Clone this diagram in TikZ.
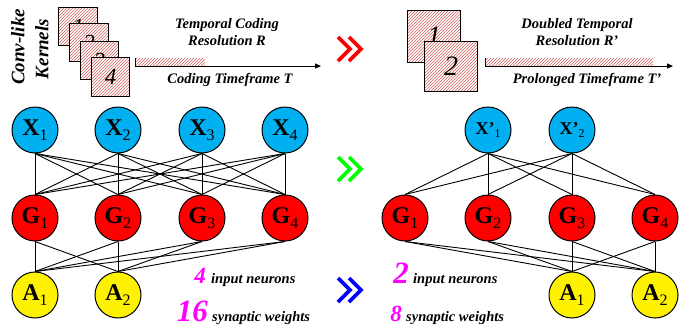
\documentclass[tikz,border=0pt]{standalone}
\usepackage{fontspec}
\setmainfont{Liberation Serif}
\usetikzlibrary{patterns,arrows.meta}
\definecolor{xblue}{RGB}{0,176,240}
\definecolor{hatch}{RGB}{210,95,95}
\definecolor{numpink}{RGB}{255,0,255}
\newcommand\nlab[2]{\textbf{#1}\raisebox{-4.5pt}{\fontsize{16}{16}\selectfont #2}}
\newcommand\plab[2]{\textbf{#1}\raisebox{-3.5pt}{\fontsize{12}{12}\selectfont #2}}
\begin{document}
\begin{tikzpicture}[x=1pt,y=-1pt,
  neuron/.style={circle,draw=black,line width=1pt,minimum size=46pt,inner sep=0pt,
    font=\fontsize{24}{24}\selectfont},
  xn/.style={neuron,fill=xblue},
  xp/.style={neuron,fill=xblue,font=\fontsize{18}{18}\selectfont},
  gn/.style={neuron,fill=red},
  an/.style={neuron,fill=yellow},
  link/.style={line width=0.9pt},
  hatched/.style={preaction={fill=white},pattern=north east lines,pattern color=hatch},
  kbox/.style={hatched,draw=black,line width=1pt,anchor=north west,inner sep=0pt,
    font=\itshape\fontsize{23}{23}\selectfont},
  kbig/.style={kbox,font=\itshape\fontsize{28}{28}\selectfont},
  lbl/.style={font=\bfseries\itshape\fontsize{14.5}{17}\selectfont,align=center,inner sep=0pt},
  side/.style={font=\bfseries\itshape\fontsize{19}{22}\selectfont,inner sep=0pt,rotate=90},
  cnt/.style={font=\bfseries\itshape\fontsize{14.5}{17}\selectfont,anchor=base west,inner sep=0pt},
  big/.style={text=numpink,font=\bfseries\itshape\fontsize{#1}{#1}\selectfont,anchor=base east,inner sep=0pt},
  chev/.style={line width=3.8pt,line join=miter}
]
\useasboundingbox (0,0) rectangle (694,330);

% ---- kernels and time axes ----
\node[side] (conv) at (18,47) {Conv-like};
\node[side] (kern) at (42,49) {Kernels};

\node[kbox,minimum width=39pt,minimum height=38pt] (k1) at (58,7) {1};
\node[kbox,minimum width=39pt,minimum height=38pt] (k2) at (69,23) {2};
\node[kbox,minimum width=38pt,minimum height=38pt] (k3) at (80,41) {3};
\node[kbox,minimum width=38pt,minimum height=39pt] (k4) at (91,57) {4};

\coordinate (ta) at (135,66);
\coordinate (tb) at (321,66);
\path[hatched] (135,58) rectangle (205,66);
\draw[line width=1pt] (135,58) -- (ta);
\draw[line width=1pt,-{Triangle[length=6pt,width=5pt]}] (ta) -- (tb);
\node[lbl] (res) at (227,32) {Temporal Coding\\Resolution R};
\node[lbl] (tf) at (230,80) {Coding Timeframe T};

\node[kbig,minimum width=53pt,minimum height=52pt] (q1) at (407,10) {1};
\node[kbig,minimum width=53pt,minimum height=50pt] (q2) at (424,41) {2};

\coordinate (ua) at (485,66);
\coordinate (ub) at (673,66);
\path[hatched] (485,58) rectangle (653,66);
\draw[line width=1pt] (485,58) -- (ua);
\draw[line width=1pt,-{Triangle[length=6pt,width=5pt]}] (ua) -- (ub);
\node[lbl] (res2) at (577,32) {Doubled Temporal\\Resolution R’};
\node[lbl] (tf2) at (587,80) {Prolonged Timeframe T’};

% ---- transition marks ----
\draw[chev,red] (338,37) -- (350,49) -- (338,61);
\draw[chev,red] (349,37) -- (361,49) -- (349,61);
\draw[chev,green] (338,157) -- (350,169) -- (338,181);
\draw[chev,green] (349,157) -- (361,169) -- (349,181);
\draw[chev,blue] (338,278) -- (350,290) -- (338,302);
\draw[chev,blue] (349,278) -- (361,290) -- (349,302);

% ---- original network ----
\foreach \i/\x in {1/35,2/118,3/202,4/285}{
  \node[xn] (x\i) at (\x,130) {\nlab{X}{\i}};
  \node[gn] (g\i) at (\x,218) {\nlab{G}{\i}};
}
\node[an] (a1) at (35,295) {\nlab{A}{1}};
\node[an] (a2) at (118,295) {\nlab{A}{2}};
\foreach \i in {1,...,4}{
  \foreach \j in {1,...,4}{\draw[link] (x\i.south) -- (g\j.north);}
  \foreach \j in {1,2}{\draw[link] (g\i.south) -- (a\j.north);}
}

% ---- compressed network ----
\node[xp] (y1) at (488,130) {\plab{X’}{1}};
\node[xp] (y2) at (572,130) {\plab{X’}{2}};
\foreach \i/\x in {1/405,2/488,3/572,4/655}{
  \node[gn] (h\i) at (\x,218) {\nlab{G}{\i}};
}
\node[an] (b1) at (572,295) {\nlab{A}{1}};
\node[an] (b2) at (655,295) {\nlab{A}{2}};
\foreach \i in {1,...,4}{
  \foreach \j in {1,2}{
    \draw[link] (y\j.south) -- (h\i.north);
    \draw[link] (h\i.south) -- (b\j.north);
  }
}

% ---- counts ----
\node[big=23] (n4) at (206,283) {4};
\node[cnt] (in1) at (211,283) {input neurons};
\node[big=31] (n16) at (208,321) {16};
\node[cnt] (sw1) at (212,321) {synaptic weights};
\node[big=31] (n2) at (409,283) {2};
\node[cnt] (in2) at (413,283) {input neurons};
\node[big=23] (n8) at (402,321) {8};
\node[cnt] (sw2) at (406,321) {synaptic weights};
\end{tikzpicture}
\end{document}
